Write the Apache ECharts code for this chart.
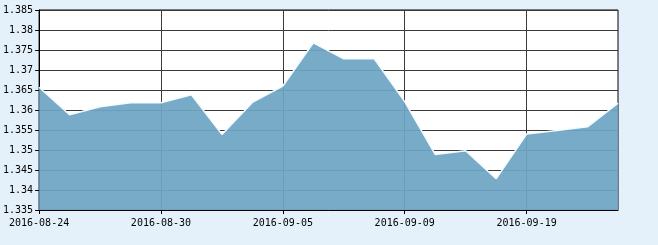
<!DOCTYPE html>
<html>
<head>
<meta charset="utf-8">
<script src="https://cdn.jsdelivr.net/npm/echarts@6/dist/echarts.min.js"></script>
<style>
html,body{margin:0;padding:0;background:#E5F1FA;}
#c{width:658px;height:245px;}
</style>
</head>
<body>
<div id="c"></div>
<script>
const categories = ['2016-08-24','2016-08-25','2016-08-26','2016-08-29','2016-08-30','2016-08-31','2016-09-01','2016-09-02','2016-09-05','2016-09-06','2016-09-07','2016-09-08','2016-09-09','2016-09-12','2016-09-13','2016-09-14','2016-09-19','2016-09-20','2016-09-21','2016-09-22'];
const values = [1.3657,1.3588,1.3608,1.3618,1.3618,1.3638,1.3539,1.3619,1.3660,1.3768,1.3728,1.3728,1.3621,1.3489,1.3498,1.3428,1.3540,1.3549,1.3558,1.3617];
const yMin = 1.335, yMax = 1.385, yStep = 0.005;

const chart = echarts.init(document.getElementById('c'), null, {renderer:'canvas'});
const font = 'DejaVu Sans Mono';
chart.setOption({
  backgroundColor: '#E5F1FA',
  animation: false,
  grid: {left:38, right:40, top:10, bottom:35, show:true, backgroundColor:'#fff', borderColor:'#000', borderWidth:1, containLabel:false},
  xAxis: {
    type:'category', data:categories, boundaryGap:false,
    axisLine:{show:true, lineStyle:{color:'#000', width:1}},
    axisTick:{show:true, interval:3, length:4, lineStyle:{color:'#000'}},
    axisLabel:{interval:3, color:'#000', fontFamily:font, fontSize:10, margin:8, hideOverlap:false},
    splitLine:{show:true, interval:3, lineStyle:{color:'#3a3a3a', width:1}}
  },
  yAxis: {
    type:'value', min:yMin, max:yMax, interval:yStep,
    axisLine:{show:true, lineStyle:{color:'#000', width:1}},
    axisTick:{show:true, length:4, lineStyle:{color:'#000'}},
    axisLabel:{color:'#000', fontFamily:font, fontSize:10, margin:6, formatter: v => String(+v.toFixed(3))},
    splitLine:{show:true, lineStyle:{color:'#3a3a3a', width:1}}
  },
  series: [{
    type:'line', data:values, symbol:'none', smooth:false, z:1,
    lineStyle:{color:'#f4fbff', width:1.5},
    areaStyle:{color:'#6EA5C4', opacity:0.93, origin:'start'}
  }]
});
</script>
</body>
</html>
